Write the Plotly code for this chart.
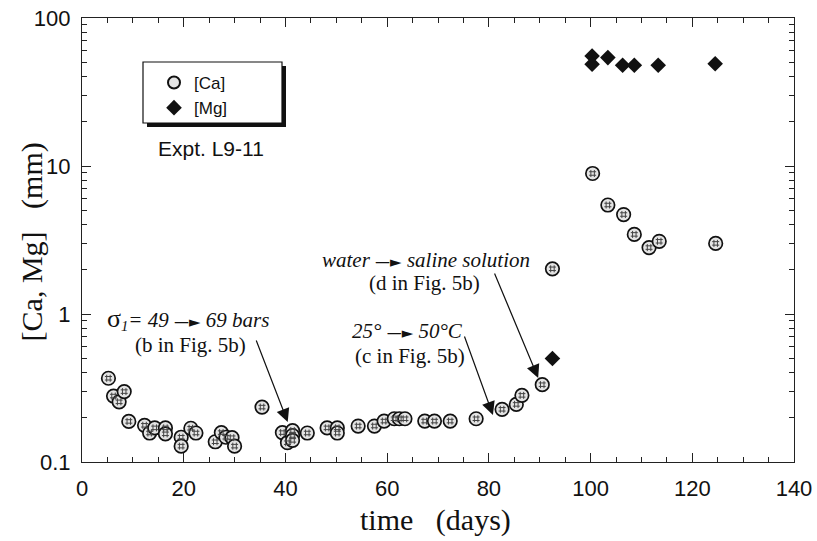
import plotly.graph_objects as go

# Dissolved calcium, experiment L9-11
ca_day = [5.2, 6.2, 7.3, 8.3, 9.2, 12.3, 13.3, 14.3, 16.4, 16.4, 19.5, 19.5,
          21.4, 22.4, 26.2, 27.4, 28.3, 29.5, 30.0, 35.4, 39.4, 40.4, 41.4,
          41.4, 41.4, 44.3, 48.2, 50.2, 50.2, 54.3, 57.5, 59.4, 61.4, 62.4,
          63.5, 67.4, 69.3, 72.4, 77.5, 82.6, 85.4, 86.5, 90.5, 92.5, 100.4,
          103.4, 106.5, 108.6, 111.5, 113.5, 124.6]
ca_mm = [0.368, 0.279, 0.255, 0.299, 0.188, 0.177, 0.157, 0.170, 0.170, 0.155,
         0.147, 0.128, 0.169, 0.157, 0.137, 0.158, 0.147, 0.146, 0.128, 0.235,
         0.158, 0.135, 0.163, 0.151, 0.140, 0.157, 0.170, 0.170, 0.157, 0.175,
         0.175, 0.189, 0.196, 0.196, 0.196, 0.189, 0.189, 0.189, 0.196, 0.227,
         0.245, 0.282, 0.333, 2.02, 8.9, 5.45, 4.7, 3.45, 2.81, 3.1, 3.0]

# Dissolved magnesium
mg_day = [92.5, 100.3, 100.3, 103.4, 106.3, 108.6, 113.3, 124.5]
mg_mm = [0.50, 55.4, 48.7, 54.0, 47.9, 47.9, 47.9, 49.1]

x_major = [0, 20, 40, 60, 80, 100, 120, 140]
y_major = [0.1, 1, 10, 100]
y_major_text = ["0.1", "1", "10", "100"]
y_minor = [m * d for d in (0.1, 1, 10) for m in range(2, 10)]

SERIF = "Liberation Serif"
SANS = "Liberation Sans"
# shaft + solid triangular head used inside the event labels
ARROW = ("<span style='font-family:DejaVu Sans;font-style:normal;"
         "font-size:15px'>—►</span>")

fig = go.Figure()

# Ca: dotted circles (circle + inner hash pattern)
fig.add_trace(go.Scatter(
    x=ca_day, y=ca_mm, mode="markers", name="[Ca]",
    marker=dict(symbol="circle", size=13.5, color="#e4e4e4",
                line=dict(color="#111", width=1.7)),
))
fig.add_trace(go.Scatter(
    x=ca_day, y=ca_mm, mode="markers", showlegend=False,
    hoverinfo="skip",
    marker=dict(symbol="hash-open", size=7, color="#444",
                line=dict(color="#444", width=1)),
))
fig.add_trace(go.Scatter(
    x=mg_day, y=mg_mm, mode="markers", name="[Mg]",
    marker=dict(symbol="diamond", size=12, color="#111",
                line=dict(color="#111", width=0)),
))

axis_common = dict(
    showline=True, linecolor="#222", linewidth=1.2, mirror="allticks",
    ticks="inside", tickcolor="#222", tickwidth=1.2, ticklen=9,
    showgrid=False, zeroline=False, automargin=False,
    tickfont=dict(family=SANS, size=22, color="#111"),
)

fig.update_xaxes(
    range=[0, 140], tickmode="array", tickvals=x_major,
    minor=dict(dtick=5, tick0=0, ticks="inside", ticklen=5, tickcolor="#222",
               tickwidth=1, showgrid=False),
    ticklabelstandoff=6,
    **axis_common,
)
fig.update_yaxes(
    type="log", range=[-1, 2], tickmode="array", tickvals=y_major,
    ticktext=y_major_text,
    minor=dict(tickmode="array", tickvals=y_minor, ticks="inside", ticklen=5,
               tickcolor="#222", tickwidth=1, showgrid=False),
    ticklabelstandoff=6,
    **axis_common,
)

annotations = [
    # axis titles
    dict(text="time   (days)", xref="paper", yref="paper", x=0.496, y=-0.131,
         showarrow=False, font=dict(family=SERIF, size=30, color="#111"),
         xanchor="center", yanchor="middle"),
    dict(text="[Ca, Mg]   (mm)", xref="paper", yref="paper", x=-0.07, y=0.495,
         textangle=-90, showarrow=False,
         font=dict(family=SERIF, size=30, color="#111"),
         xanchor="center", yanchor="middle"),
    # legend caption
    dict(text="Expt. L9-11", x=25.4, y=1.12, showarrow=False,
         font=dict(family=SANS, size=21, color="#111")),
    # event labels
    dict(text="<span style='font-size:26px'>σ</span><sub><i>1</i></sub>"
              "<i>= 49 " + ARROW + " 69 bars</i>",
         x=20.8, y=-0.035, showarrow=False,
         font=dict(family=SERIF, size=21, color="#111")),
    dict(text="(b in Fig. 5b)", x=21.3, y=-0.207, showarrow=False,
         font=dict(family=SERIF, size=21, color="#111")),
    dict(text="<i>25° " + ARROW + " 50°C</i>", x=64.1, y=-0.115,
         showarrow=False, font=dict(family=SERIF, size=21, color="#111")),
    dict(text="(c in Fig. 5b)", x=64.4, y=-0.284, showarrow=False,
         font=dict(family=SERIF, size=21, color="#111")),
    dict(text="<i>water " + ARROW + " saline solution</i>", x=67.7, y=0.365,
         showarrow=False, font=dict(family=SERIF, size=21, color="#111")),
    dict(text="(d in Fig. 5b)", x=67.4, y=0.209, showarrow=False,
         font=dict(family=SERIF, size=21, color="#111")),
]

# pointer arrows (tail -> head), in data coordinates (log10 for y)
pointers = [
    ((34.15, -0.169), (40.45, -0.730)),
    ((75.1, -0.142), (80.8, -0.682)),
    ((81.0, 0.284), (89.7, -0.432)),
]
for (tx, ty), (hx, hy) in pointers:
    annotations.append(dict(
        x=hx, y=hy, ax=tx, ay=ty, axref="x", ayref="y", text="",
        showarrow=True, arrowhead=2, arrowsize=2.2, arrowwidth=1.2,
        arrowcolor="#111", standoff=0,
    ))

# legend frame with drop shadow
shapes = [
    dict(type="rect", xref="paper", yref="paper",
         x0=(147 - 82) / 712, x1=(286 - 82) / 712,
         y0=(462 - 127) / 444, y1=(462 - 66) / 444,
         fillcolor="#111", line=dict(width=0), layer="above"),
    dict(type="rect", xref="paper", yref="paper",
         x0=(143 - 82) / 712, x1=(282 - 82) / 712,
         y0=(462 - 123) / 444, y1=(462 - 62) / 444,
         fillcolor="white", line=dict(color="#111", width=1.2), layer="above"),
]

fig.update_layout(
    template="none",
    width=817, height=541,
    margin=dict(l=82, r=23, t=18, b=79, autoexpand=False),
    paper_bgcolor="white", plot_bgcolor="white",
    annotations=annotations, shapes=shapes,
    showlegend=True,
    legend=dict(
        x=(154 - 82) / 712, y=(462 - 65) / 444, xanchor="left",
        yanchor="top", bgcolor="rgba(0,0,0,0)", borderwidth=0,
        font=dict(family=SANS, size=17, color="#111"),
        itemsizing="constant", tracegroupgap=0,
    ),
)

fig.write_html("out.html")
